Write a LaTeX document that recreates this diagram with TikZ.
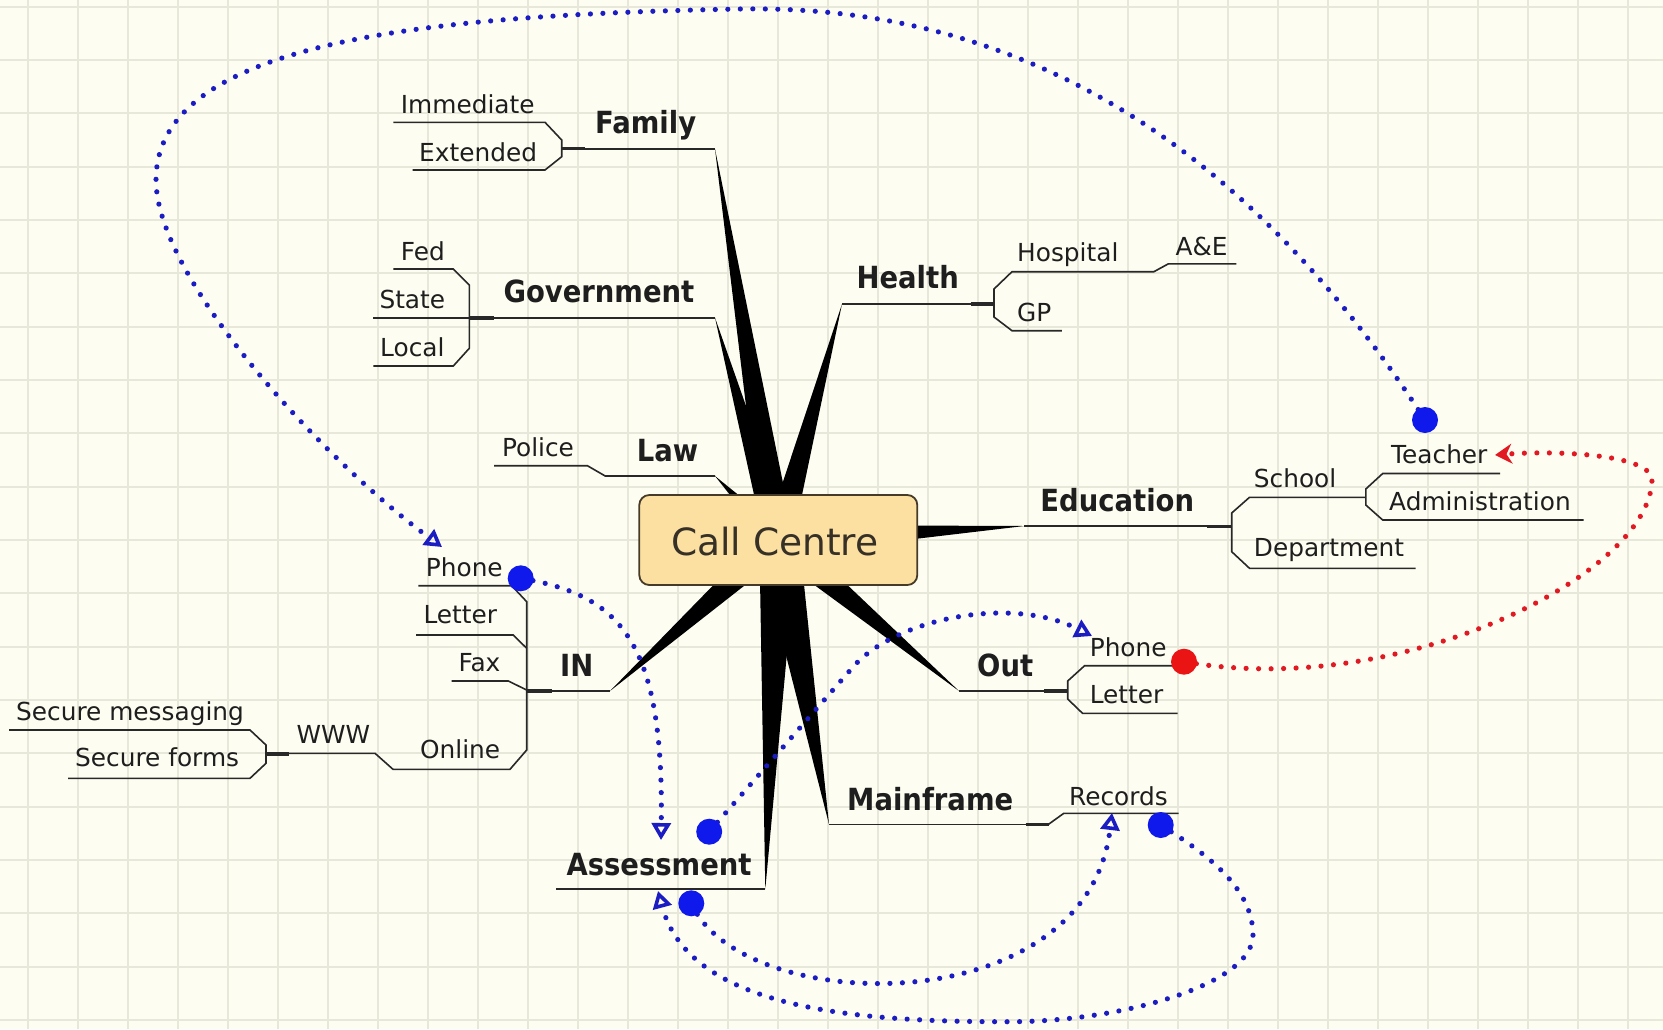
\documentclass[tikz,border=0pt]{standalone}
\usepackage{fontspec}
\setmainfont{DejaVu Sans}
\newfontfamily\lblfont[FakeStretch=0.9]{DejaVu Sans}
\usetikzlibrary{calc,arrows.meta}
\definecolor{bg}{RGB}{253,253,241}
\definecolor{gridc}{RGB}{232,232,218}
\definecolor{ink}{RGB}{30,30,30}
\definecolor{linec}{RGB}{40,40,40}
\definecolor{boxfill}{RGB}{251,224,162}
\definecolor{boxdraw}{RGB}{70,58,40}
\definecolor{cctext}{RGB}{55,48,38}
\definecolor{dotblue}{RGB}{28,28,195}
\definecolor{ballblue}{RGB}{15,25,235}
\definecolor{dotred}{RGB}{225,25,35}
\definecolor{ballred}{RGB}{235,20,20}
\tikzset{
  gridline/.style={draw=gridc, line width=2.2pt},
  small/.style={anchor=base west, inner sep=0pt, text=ink, font=\fontsize{24.8}{28}\selectfont},
  big/.style={anchor=base west, inner sep=0pt, text=ink, font=\lblfont\bfseries\fontsize{30.5}{34}\selectfont},
  ul/.style={draw=linec, line width=1.6pt, line join=miter},
  thk/.style={draw=linec, line width=3.6pt},
  bluepath/.style={draw=dotblue, line width=5.2pt, line cap=round, dash pattern=on 0pt off 12.5pt},
  redpath/.style={draw=dotred, line width=5.2pt, line cap=round, dash pattern=on 0pt off 12.5pt},
  bluetip/.style={-{Triangle[open, length=17pt, width=19pt, line width=3.6pt]}},
  redtip/.style={-{Stealth[length=17pt, width=20pt, line width=2pt]}},
  ballb/.style={circle, fill=ballblue, inner sep=0pt, minimum size=26pt},
  ballr/.style={circle, fill=ballred, inner sep=0pt, minimum size=26pt},
  ccbox/.style={draw=boxdraw, fill=boxfill, line width=1.8pt, rounded corners=10pt, minimum width=278pt, minimum height=90pt, inner sep=0pt}
}
\newcommand\mmspoke[2]{\fill[black] ($(cc)!#2!90:(#1)$) -- (#1) -- ($(cc)!#2!-90:(#1)$) -- cycle;}
\begin{document}
\begin{tikzpicture}[x=1pt,y=-1pt]
\useasboundingbox (0,0) rectangle (1663,1029);
\fill[bg] (0,0) rectangle (1663,1029);
\foreach \i in {0,...,32} \draw[gridline] (28.3+50*\i,0) -- (28.3+50*\i,1029);
\foreach \j in {0,...,19} \draw[gridline] (0,6.7+53.33*\j) -- (1663,6.7+53.33*\j);

% centre and spoke tips
\coordinate (cc) at (778.3,540);
\coordinate (fam) at (715,149);
\coordinate (gov) at (715,317.7);
\coordinate (law) at (715,476);
\coordinate (hea) at (842,304);
\coordinate (edu) at (1024.4,526);
\coordinate (inn) at (610,691);
\coordinate (out) at (959,691);
\coordinate (mai) at (829,824.3);
\coordinate (ass) at (765.3,889);

\mmspoke{fam}{16pt}
\mmspoke{gov}{14pt}
\mmspoke{law}{10pt}
\mmspoke{hea}{14pt}
\mmspoke{edu}{15pt}
\mmspoke{inn}{15pt}
\mmspoke{out}{15pt}
\mmspoke{mai}{21pt}
\mmspoke{ass}{19pt}

\node[ccbox] (box) at (cc) {};
\node[anchor=base, inner sep=0pt, text=cctext, font=\fontsize{37.5}{40}\selectfont] (cctxt) at (775,555) {Call Centre};

% Family
\draw[ul] (393.3,122.3) -- (545,122.3) -- (561.7,140) -- (561.7,156.7) -- (545,170) -- (412.7,170);
\draw[thk] (561.7,148.3) -- (585,148.3);
\draw[ul] (585,149) -- (fam);
\node[small] (tImm) at (400.7,113.3) {Immediate};
\node[small] (tExt) at (419,161.7) {Extended};
\node[big] (tFam) at (595,133.3) {Family};

% Government
\draw[ul] (393.3,269) -- (453.3,269) -- (469.3,285) -- (469.3,348.3) -- (453.3,366) -- (373.3,366);
\draw[ul] (373.3,317.7) -- (469.3,317.7);
\draw[thk] (469.3,318) -- (494,318);
\draw[ul] (494,317.7) -- (gov);
\node[small] (tFed) at (400.7,260) {Fed};
\node[small] (tSta) at (379.3,308.3) {State};
\node[small] (tLoc) at (380,356) {Local};
\node[big] (tGov) at (503.3,302.7) {Government};

% Law
\draw[ul] (494,465.7) -- (587.4,465.7) -- (605.2,476) -- (law);
\node[small] (tPol) at (501.8,456.7) {Police};
\node[big] (tLaw) at (636.7,461.7) {Law};

% Health
\draw[ul] (hea) -- (970.7,304);
\draw[thk] (970.7,304) -- (994,304);
\draw[ul] (1061.8,330.7) -- (1012,330.7) -- (994,317) -- (994,289) -- (1012,271.7) -- (1153.9,271.7) -- (1168.2,263.9) -- (1236.4,263.9);
\node[big] (tHea) at (856.4,288.3) {Health};
\node[small] (tHos) at (1017,261.7) {Hospital};
\node[small] (tAE) at (1175.4,255) {A\&E};
\node[small] (tGP) at (1017,321.7) {GP};

% Education
\draw[ul] (edu) -- (1207.2,526);
\draw[thk] (1207.2,526.5) -- (1231.7,526.5);
\draw[ul] (1415.6,568.3) -- (1249.5,568.3) -- (1231.7,551.7) -- (1231.7,513) -- (1249.5,497.3) -- (1365.8,497.3);
\draw[ul] (1500.2,473.5) -- (1382.7,473.5) -- (1365.8,489) -- (1365.8,505) -- (1382.7,520) -- (1583.5,520);
\node[big] (tEdu) at (1040.2,511.7) {Education};
\node[small] (tSch) at (1253.7,487.3) {School};
\node[small] (tTea) at (1391,463.3) {Teacher};
\node[small] (tAdm) at (1389,510) {Administration};
\node[small] (tDep) at (1253.7,556.7) {Department};

% Out
\draw[ul] (out) -- (1044,691);
\draw[thk] (1044,691) -- (1067.7,691);
\draw[ul] (1173.4,665.7) -- (1084.6,665.7) -- (1067.7,681) -- (1067.7,699) -- (1082.5,713.3) -- (1177.6,713.3);
\node[big] (tOut) at (977,676.7) {Out};
\node[small] (tOPh) at (1089.6,656.7) {Phone};
\node[small] (tOLe) at (1089.6,703.3) {Letter};

% Mainframe
\draw[ul] (mai) -- (1025.5,824.3);
\draw[thk] (1025.5,824.3) -- (1048.5,824.3);
\draw[ul] (1048.5,824.3) -- (1063.8,813.3) -- (1178.6,813.3);
\node[big] (tMai) at (847,810) {Mainframe};
\node[small] (tRec) at (1068.9,805) {Records};

% Assessment
\draw[ul] (556,889) -- (ass);
\node[big] (tAss) at (566.3,875) {Assessment};

% IN
\draw[ul] (418.3,585.7) -- (511.7,585.7) -- (526.7,601.7) -- (526.7,750) -- (510,769.3) -- (393,769.3) -- (375,753.3) -- (289,753.3);
\draw[ul] (416,635) -- (513.3,635) -- (526.7,648.3);
\draw[ul] (451.7,681) -- (508.3,681) -- (526.7,690);
\draw[thk] (526.7,691) -- (551.7,691);
\draw[ul] (551.7,691) -- (inn);
\draw[thk] (266,754) -- (289,754);
\draw[ul] (9,730) -- (250,730) -- (266,745) -- (266,763.3) -- (250,778.3) -- (68,778.3);
\node[big] (tIN) at (560,676.7) {IN};
\node[small] (tIPh) at (425.7,576.7) {Phone};
\node[small] (tILe) at (423.3,623.3) {Letter};
\node[small] (tFax) at (458.3,671.7) {Fax};
\node[small] (tOnl) at (420,758.3) {Online};
\node[small] (tWWW) at (296.4,743.3) {WWW};
\node[small] (tSM) at (16,720) {Secure messaging};
\node[small] (tSF) at (75,766.7) {Secure forms};

% link end points
\coordinate (teachball) at (1425,420);
\coordinate (inball) at (520.7,578.3);
\coordinate (assball1) at (709.2,831.7);
\coordinate (assball2) at (691.3,903.3);
\coordinate (recball) at (1160.7,825);
\coordinate (redball) at (1184,661.7);
\coordinate (inPhArr) at (442,547);
\coordinate (assTopArr) at (661,840);
\coordinate (assBotArr) at (658,891);
\coordinate (outPhArr) at (1092,636);
\coordinate (recArr) at (1112,813);
\coordinate (teachArr) at (1495,455);

% dotted links
\draw[bluepath,bluetip] (teachball) .. controls (1209,85) and (955,5) .. (739,9)
   .. controls (424,15) and (156,42) .. (156,180)
   .. controls (156,276) and (318,456) .. (inPhArr);
\draw[bluepath,bluetip] (inball) .. controls (620,595) and (664,640) .. (assTopArr);
\draw[bluepath,bluetip] (assball1) -- (853,667) .. controls (895,619) and (1010,595) .. (outPhArr);
\draw[bluepath,bluetip] (recball) .. controls (1200,850) and (1253,885) .. (1253,935)
   .. controls (1253,985) and (1120,1021.7) .. (1010,1021.7)
   .. controls (860,1022) and (690,1010) .. (assBotArr);
\draw[bluepath,bluetip] (assball2) .. controls (742.4,1018) and (1087,1023.5) .. (recArr);
\draw[redpath,redtip] (redball) .. controls (1400,700) and (1650,575) .. (1652,480)
   .. controls (1652,455) and (1560,450) .. (teachArr);

% balls
\node[ballb] (bTeach) at (teachball) {};
\node[ballb] (bIn) at (inball) {};
\node[ballb] (bAss1) at (assball1) {};
\node[ballb] (bAss2) at (assball2) {};
\node[ballb] (bRec) at (recball) {};
\node[ballr] (bRed) at (redball) {};
\end{tikzpicture}
\end{document}
